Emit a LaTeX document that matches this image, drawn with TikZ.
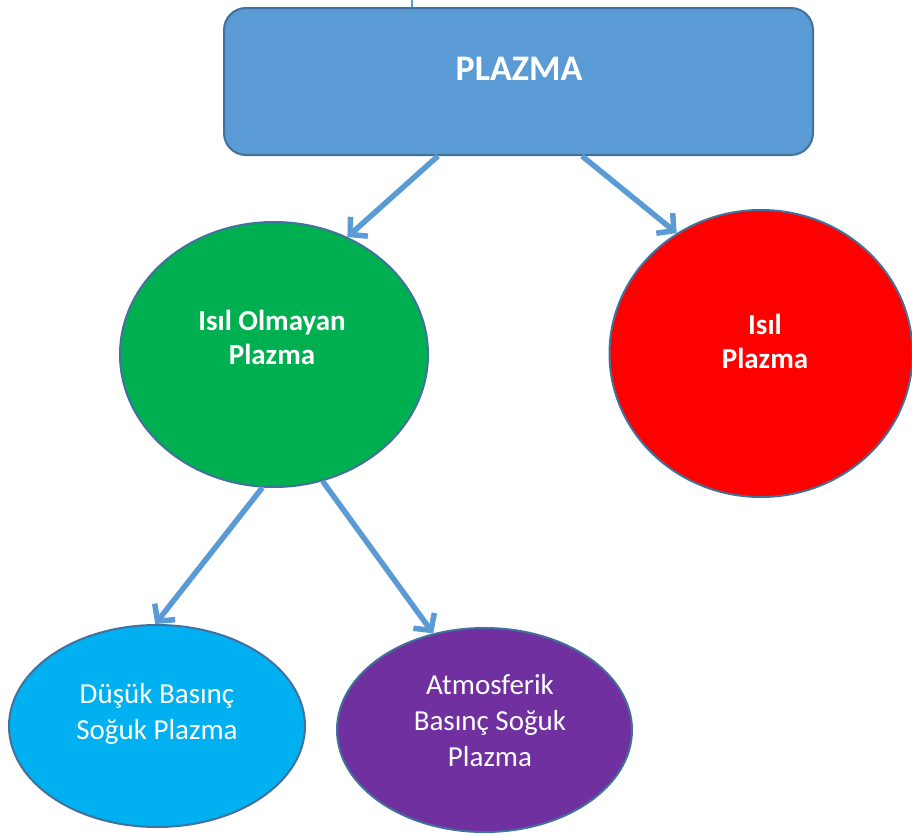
\documentclass[tikz,border=0pt]{standalone}
\usepackage{fontspec}
\setmainfont{Carlito}
\usetikzlibrary{shapes.geometric,arrows.meta,calc}
\definecolor{boxblue}{HTML}{5B9BD5}
\definecolor{edgeblue}{HTML}{41719C}
\definecolor{ggreen}{HTML}{00B050}
\definecolor{rred}{HTML}{FF0000}
\definecolor{cyanb}{HTML}{00B0F0}
\definecolor{purp}{HTML}{7030A0}
\tikzset{
  blob/.style={ellipse, draw=edgeblue, line width=2pt, inner sep=0pt},
  lab/.style={text=white, align=center, inner sep=0pt},
  boldlab/.style={lab, font=\fontsize{29}{34}\selectfont\bfseries},
  reglab/.style={lab, font=\fontsize{29}{36}\selectfont},
  arr/.style={draw=boxblue, line width=5.5pt, -{Straight Barb[length=12pt,width=26pt]}},
}
\begin{document}
\begin{tikzpicture}[x=1pt,y=-1pt]
\useasboundingbox (0,0) rectangle (912,835);
% top box
\node[draw=edgeblue, fill=boxblue, line width=2pt, rounded corners=22pt,
      minimum width=589pt, minimum height=147pt, inner sep=0pt] (box) at (518.5,81.5) {};
\node[lab, font=\fontsize{36}{42}\selectfont\bfseries] (boxt) at (519,69) {PLAZMA};
\coordinate (topend) at (412,0);
\draw[boxblue, line width=1.5pt] (topend) -- (topend |- box.north);
% ellipses
\node[blob, fill=ggreen, minimum width=308pt, minimum height=265pt] (green) at (274,354.5) {};
\node[boldlab] (greent) at (272,337) {Isıl Olmayan\\Plazma};
\node[blob, fill=rred, minimum width=303pt, minimum height=287pt] (red) at (761,353.5) {};
\node[boldlab] (redt) at (765,341) {Isıl\\Plazma};
\node[blob, fill=cyanb, minimum width=296pt, minimum height=202pt] (low) at (157,726) {};
\node[reglab] (lowt) at (157,714) {Düşük Basınç\\Soğuk Plazma};
\node[blob, fill=purp, minimum width=295pt, minimum height=204pt] (atm) at (484.5,730) {};
\node[reglab] (atmt) at (490,721) {Atmosferik\\Basınç Soğuk\\Plazma};
% arrows
\draw[arr] ([xshift=-80.5pt]box.south) -- (green.58);
\draw[arr] ([xshift=63.5pt]box.south) -- (red.125);
\draw[arr] (green.265) -- (low.91);
\draw[arr] (green.291) -- (atm.118);
\end{tikzpicture}
\end{document}
